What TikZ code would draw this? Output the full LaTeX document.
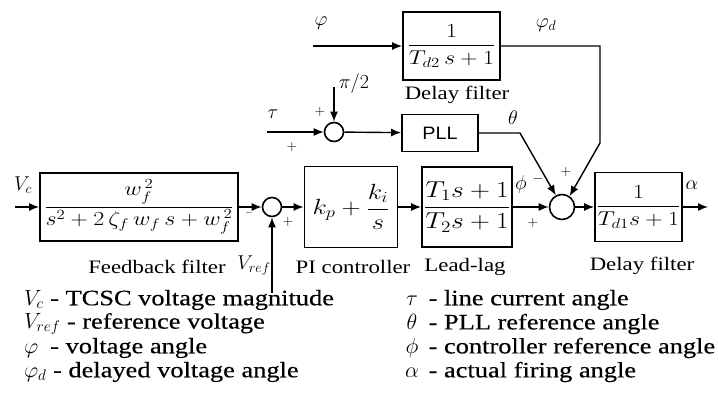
\RequirePackage{fix-cm}
\documentclass[tikz,border=0pt]{standalone}
\usepackage{amsmath,amssymb}
\usepackage{fontspec}
\setmainfont{Liberation Serif}[FakeStretch=1.2]
\newfontfamily\legfont{Liberation Serif}[FakeStretch=1.2,FakeBold=0.4]
\newfontfamily\pllfont{Liberation Sans}[FakeStretch=1.1]
\usetikzlibrary{shapes,arrows.meta,positioning}
\newcommand{\hwide}[1]{\scalebox{1.2}[1]{#1}}

\begin{document}
\begin{tikzpicture}[x=1pt,y=-1pt,
    >={Latex[length=10pt,width=8pt]},
    line width=1.4pt,
    block/.style={draw,line width=1.8pt,inner sep=0pt},
    sumnode/.style={draw,circle,line width=1.6pt,inner sep=0pt,minimum size=#1},
    lbl/.style={font=\fontsize{19}{21}\selectfont},
    sym/.style={font=\fontsize{20}{22}\selectfont},
    sgn/.style={font=\fontsize{14}{16}\selectfont},
    leg/.style={anchor=west,font=\legfont\fontsize{22}{24}\selectfont}]
  \useasboundingbox (0,0) rectangle (718,412);

  % blocks
  \node[block,minimum width=97pt,minimum height=68pt,font=\fontsize{20}{22}\selectfont] (dly2) at (451.5,46) {\hwide{$\dfrac{1}{T_{d2}\,s+1}$}};
  \node[block,minimum width=76pt,minimum height=37pt,font=\pllfont\fontsize{18}{20}\selectfont] (pll) at (440,133) {PLL};
  \node[block,minimum width=198pt,minimum height=68pt,font=\fontsize{20}{22}\selectfont] (fb) at (139,207) {\hwide{$\dfrac{w_f^{\,2}}{s^2+2\,\zeta_f\,w_f\,s+w_f^{\,2}}$}};
  \node[block,minimum width=93pt,minimum height=81pt,font=\fontsize{22}{24}\selectfont] (pi) at (351,207) {\hwide{$k_p+\dfrac{k_i}{s}$}};
  \node[block,minimum width=90pt,minimum height=80pt,font=\fontsize{23}{25}\selectfont] (ll) at (467,207) {\hwide{$\dfrac{T_1 s+1}{T_2 s+1}$}};
  \node[block,minimum width=87pt,minimum height=69pt,font=\fontsize{20}{22}\selectfont] (dly1) at (638.5,207) {\hwide{$\dfrac{1}{T_{d1}s+1}$}};

  % summing points
  \node[sumnode=19pt] (s1) at (272,207) {};
  \node[sumnode=19pt] (s2) at (334,132) {};
  \node[sumnode=25pt] (s3) at (562,207) {};

  % free ends
  \coordinate (phin) at (313,46);
  \coordinate (c1) at (600,46);
  \coordinate (c2) at (600,143);
  \coordinate (tauin) at (267,132);
  \coordinate (pi2) at (334,87);
  \coordinate (c3) at (520,133);
  \coordinate (vcin) at (15,207);
  \coordinate (vrefin) at (272,293);
  \coordinate (aout) at (708,207);

  % connectors
  \draw[->] (phin) -- (dly2);
  \draw[->] (dly2) -- (c1) -- (c2) -- (s3.55);
  \draw[->] (tauin) -- (s2);
  \draw[->] (pi2) -- (s2);
  \draw[->] (s2) -- (pll);
  \draw[->] (pll) -- (c3) -- (s3.118);
  \draw[->] (vcin) -- (fb);
  \draw[->] (fb) -- (s1);
  \draw[->] (vrefin) -- (s1);
  \draw[->] (s1) -- (pi);
  \draw[->] (pi) -- (ll);
  \draw[->] (ll) -- (s3);
  \draw[->] (s3) -- (dly1);
  \draw[->] (dly1) -- (aout);

  % signal names
  \node[sym] (lphi) at (321,23) {$\varphi$};
  \node[sym] (lphid) at (546,25) {$\varphi_d$};
  \node[sym] (ltau) at (273,114) {$\tau$};
  \node[sym] (lpi2) at (354,84) {$\pi/2$};
  \node[sym] (ltheta) at (513,118) {$\theta$};
  \node[sym] (lcref) at (521,184) {$\phi$};
  \node[sym] (lalpha) at (692,185) {$\alpha$};
  \node[sym] (lvc) at (23,185) {$V_c$};
  \node[sym] (lvref) at (254,266) {$V_{ref}$};

  % signs
  \node[sgn] (p1) at (320,112) {$+$};
  \node[sgn] (p2) at (292,147) {$+$};
  \node[sgn,font=\fontsize{10}{12}\selectfont] (m1) at (249,213) {$-$};
  \node[sgn] (p3) at (288,222) {$+$};
  \node[sgn] (m2) at (538,179) {$-$};
  \node[sgn] (p4) at (533,223) {$+$};
  \node[sgn] (p5) at (566,172) {$+$};

  % block names
  \node[lbl] (tdly2) at (457,95) {Delay filter};
  \node[lbl] (tfb) at (157,267) {Feedback filter};
  \node[lbl] (tpi) at (353,267) {PI controller};
  \node[lbl] (tll) at (465,267) {Lead-lag};
  \node[lbl] (tdly1) at (642,266) {Delay filter};

  % legend
  \foreach \i/\t in {0/{$V_c$ - TCSC voltage magnitude},
                     1/{$V_{ref}$ - reference voltage},
                     2/{$\varphi$\hspace{0.55em}- voltage angle},
                     3/{$\varphi_d$ - delayed voltage angle}}
    \node[leg] (legl\i) at (20,{300+24*\i}) {\t};
  \foreach \i/\s/\t in {0/\tau/line current angle,
                        1/\theta/PLL reference angle,
                        2/\phi/controller reference angle,
                        3/\alpha/actual firing angle}
    \node[leg] (legr\i) at (398,{300+24*\i}) {\makebox[20pt]{$\s$} - \t};
\end{tikzpicture}
\end{document}
